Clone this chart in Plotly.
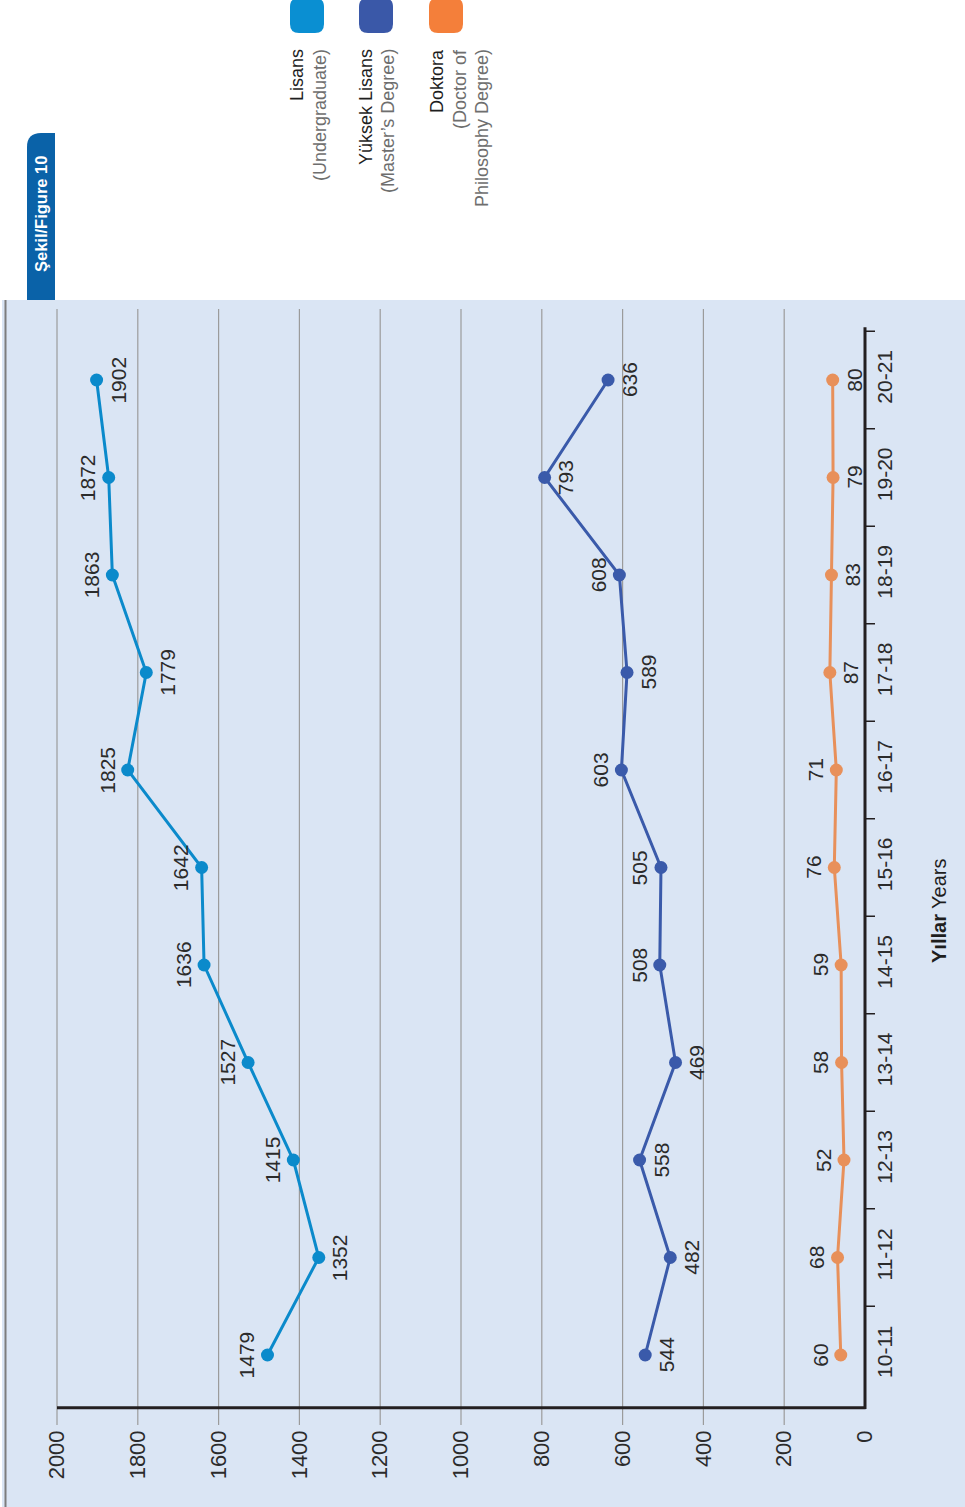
import plotly.graph_objects as go

W, H = 965, 1507

# ---------------- data ----------------
years = ["10-11", "11-12", "12-13", "13-14", "14-15", "15-16",
         "16-17", "17-18", "18-19", "19-20", "20-21"]
lisans = [1479, 1352, 1415, 1527, 1636, 1642, 1825, 1779, 1863, 1872, 1902]
yuksek_lisans = [544, 482, 558, 469, 508, 505, 603, 589, 608, 793, 636]
doktora = [60, 68, 52, 58, 59, 76, 71, 87, 83, 79, 80]
value_ticks = [0, 200, 400, 600, 800, 1000, 1200, 1400, 1600, 1800, 2000]

# label placement (+1: towards lower values / right, -1: towards higher values / left)
lisans_side = [-1, 1, -1, -1, -1, -1, -1, 1, -1, -1, 1]
yuksek_side = [1, 1, 1, 1, -1, -1, -1, 1, -1, 1, 1]
doktora_side = [-1, -1, -1, -1, -1, -1, -1, 1, 1, 1, 1]

C_LIS = "#0b8acb"
C_YL = "#3a5aaa"
C_DR = "#e8905a"
C_DR_LEG = "#f47f3a"
C_LIS_LEG = "#0a8fd2"
C_YL_LEG = "#3a58a8"
BG = "#dae5f4"
TXT = "#2b2b2b"
FONT = "Liberation Sans"


def px(x):
    return x / W


def py(y):
    return 1 - y / H


# geometry of plot area (pixels)
X_LEFT, X_RIGHT = 5, 870
ZERO_PX, SCALE = 865, (865 - 57) / 2000.0
Y_TOP, Y_BOT = 300, 1425
CAT0_PX, CAT_STEP = 1355, 97.5

x_range = [(ZERO_PX - X_LEFT) / SCALE, (ZERO_PX - X_RIGHT) / SCALE]
y_range = [-(Y_BOT - CAT0_PX) / CAT_STEP, 10 + (CAT0_PX - 10 * CAT_STEP - Y_TOP) / CAT_STEP]

idx = list(range(len(years)))

fig = go.Figure()
for vals, col in [(lisans, C_LIS), (yuksek_lisans, C_YL), (doktora, C_DR)]:
    fig.add_trace(go.Scatter(
        x=vals, y=idx, mode="lines+markers",
        line=dict(color=col, width=3),
        marker=dict(color=col, size=13),
        hoverinfo="skip", showlegend=False, cliponaxis=False,
    ))

shapes = []
# blue background
shapes.append(dict(type="rect", xref="paper", yref="paper", x0=px(2), x1=1,
                   y0=0, y1=py(300), fillcolor=BG, line=dict(width=0), layer="below"))
# left border line
shapes.append(dict(type="line", xref="paper", yref="paper", x0=px(5.5), x1=px(5.5),
                   y0=0, y1=py(300), line=dict(color="#7d7d7d", width=2), layer="below"))
# gridlines
for v in value_ticks[1:]:
    shapes.append(dict(type="line", xref="x", yref="paper", x0=v, x1=v,
                       y0=py(1425), y1=py(309), line=dict(color="#9b9b9b", width=1.2),
                       layer="below"))
# axis lines
shapes.append(dict(type="line", xref="x", yref="y", x0=2000, x1=-1.5, y0=-0.54, y1=-0.54,
                   line=dict(color="#231f20", width=3)))
shapes.append(dict(type="line", xref="x", yref="y", x0=0, x1=0, y0=-0.555, y1=10.54,
                   line=dict(color="#231f20", width=3)))
# category separators (ticks)
for k in range(len(years)):
    shapes.append(dict(type="line", xref="paper", yref="y", x0=px(865), x1=px(875),
                       y0=k + 0.5, y1=k + 0.5, line=dict(color="#231f20", width=1.5)))


def rrect(x0, y0, x1, y1, r):
    return (f"M {px(x0 + r)},{py(y0)} L {px(x1 - r)},{py(y0)} "
            f"Q {px(x1)},{py(y0)} {px(x1)},{py(y0 + r)} L {px(x1)},{py(y1 - r)} "
            f"Q {px(x1)},{py(y1)} {px(x1 - r)},{py(y1)} L {px(x0 + r)},{py(y1)} "
            f"Q {px(x0)},{py(y1)} {px(x0)},{py(y1 - r)} L {px(x0)},{py(y0 + r)} "
            f"Q {px(x0)},{py(y0)} {px(x0 + r)},{py(y0)} Z")


# legend swatches
for (x0, col) in [(290, C_LIS_LEG), (359, C_YL_LEG), (429, C_DR_LEG)]:
    shapes.append(dict(type="path", xref="paper", yref="paper",
                       path=rrect(x0, -2, x0 + 34, 33, 9),
                       fillcolor=col, line=dict(width=0)))

# title tab
r = 14
tab = (f"M {px(27)},{py(300)} L {px(27)},{py(133 + r)} Q {px(27)},{py(133)} {px(27 + r)},{py(133)} "
       f"L {px(55)},{py(133)} L {px(55)},{py(300)} Z")
shapes.append(dict(type="path", xref="paper", yref="paper", path=tab,
                   fillcolor="#0a62a8", line=dict(width=0)))

annotations = []
# data labels
for vals, sides in [(lisans, lisans_side), (yuksek_lisans, yuksek_side), (doktora, doktora_side)]:
    for i, (v, s) in enumerate(zip(vals, sides)):
        annotations.append(dict(x=v, y=i, xref="x", yref="y", text=str(v),
                                showarrow=False, textangle=-90, xshift=21 * s,
                                font=dict(family=FONT, size=21, color=TXT)))

# axis title
annotations.append(dict(x=px(952), y=py(911), xref="paper", yref="paper",
                        text="<b>Yıllar</b> Years", showarrow=False, textangle=-90,
                        font=dict(family=FONT, size=20, color="#1e1e1e")))

# title tab text
annotations.append(dict(x=px(41), y=py(214), xref="paper", yref="paper",
                        text="<b>Şekil/Figure 10</b>", showarrow=False, textangle=-90,
                        xanchor="center", yanchor="middle",
                        font=dict(family=FONT, size=16.5, color="white")))

# legend texts
legend_lines = [
    (297, "Lisans", "#1e1e1e"), (320, "(Undergraduate)", "#6e6e6e"),
    (366, "Yüksek Lisans", "#1e1e1e"), (388, "(Master’s Degree)", "#6e6e6e"),
    (437, "Doktora", "#1e1e1e"), (460, "(Doctor of", "#6e6e6e"),
    (482, "Philosophy Degree)", "#6e6e6e"),
]
for xx, t, c in legend_lines:
    annotations.append(dict(x=px(xx), y=py(47), xref="paper", yref="paper", text=t,
                            showarrow=False, textangle=-90, xanchor="center", yanchor="top",
                            font=dict(family=FONT, size=18, color=c)))

fig.update_layout(
    width=W, height=H, autosize=False,
    margin=dict(l=0, r=0, t=0, b=0),
    paper_bgcolor="white", plot_bgcolor="rgba(0,0,0,0)",
    shapes=shapes, annotations=annotations,
    xaxis=dict(domain=[px(X_LEFT), px(X_RIGHT)], range=x_range, tickvals=value_ticks,
               ticktext=[str(v) for v in value_ticks], tickangle=-90, showgrid=False,
               zeroline=False, showline=False, ticks="", automargin=False,
               tickfont=dict(family=FONT, size=22, color=TXT)),
    yaxis=dict(domain=[py(Y_BOT), py(Y_TOP)], range=y_range, tickvals=idx, ticktext=years,
               side="right", tickangle=-90, showgrid=False, zeroline=False, showline=False,
               ticks="", automargin=False, ticklabelstandoff=0,
               tickfont=dict(family=FONT, size=21, color=TXT)),
)

fig.write_html("out.html", config={"displayModeBar": False},
               post_script="document.body.style.margin='0';document.body.style.overflow='hidden';")
